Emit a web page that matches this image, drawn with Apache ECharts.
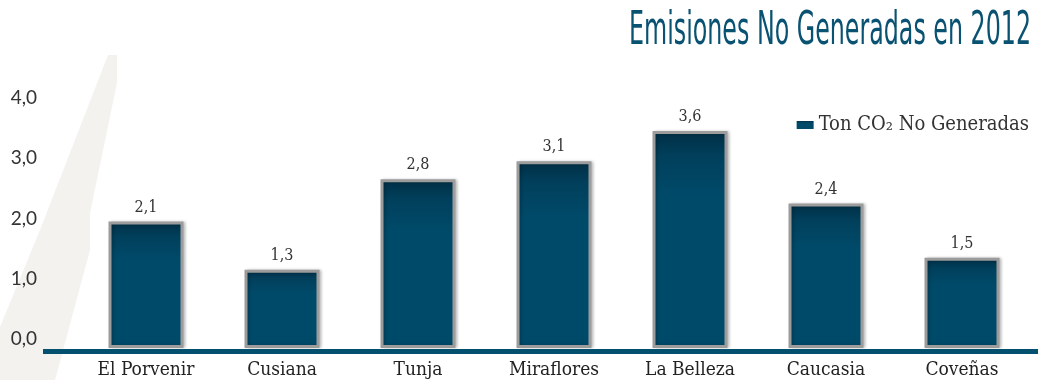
<!DOCTYPE html>
<html>
<head>
<meta charset="utf-8">
<script src="https://cdn.jsdelivr.net/npm/echarts@6/dist/echarts.min.js"></script>
<style>
html,body{margin:0;padding:0;background:#fff;}
#chart{width:1038px;height:380px;}
</style>
</head>
<body>
<div id="chart"></div>
<script>
const titleText = 'Emisiones No Generadas en 2012';
const seriesName = 'Ton CO₂ No Generadas';
const categories = ['El Porvenir', 'Cusiana', 'Tunja', 'Miraflores', 'La Belleza', 'Caucasia', 'Coveñas'];
const values = [2.1, 1.3, 2.8, 3.1, 3.6, 2.4, 1.5];
const yTicks = { min: 0, max: 4, interval: 1 };

const fmt = v => Number(v).toFixed(1).replace('.', ',');

const titleFont = '46px "Liberation Sans Narrow", "DejaVu Sans Condensed", sans-serif';
const cv = document.createElement('canvas').getContext('2d');
cv.font = titleFont;
const tw = cv.measureText(titleText).width || 400;
const titleScale = 402 / tw;

const serif = '"DejaVu Serif Condensed", "DejaVu Serif", serif';

const chart = echarts.init(document.getElementById('chart'), null, {renderer: 'canvas'});
chart.setOption({
  backgroundColor: '#ffffff',
  animation: false,
  grid: { left: 78, right: 8, top: 107, bottom: 31, containLabel: false },
  legend: {
    data: [seriesName],
    right: 4, top: 110,
    icon: 'rect', itemWidth: 17, itemHeight: 8, itemGap: 4,
    itemStyle: { borderWidth: 0, shadowBlur: 0, shadowOffsetX: 0 },
    textStyle: { fontFamily: serif, fontSize: 20, color: '#333' }
  },
  xAxis: {
    type: 'category',
    data: categories,
    axisLine: { show: false },
    axisTick: { show: false },
    axisLabel: {
      margin: 13,
      fontFamily: serif,
      fontSize: 19, color: '#222'
    }
  },
  yAxis: {
    type: 'value',
    min: yTicks.min, max: yTicks.max, interval: yTicks.interval,
    axisLine: { show: false },
    axisTick: { show: false },
    splitLine: { show: false },
    axisLabel: {
      margin: 41,
      fontFamily: 'Lato, "Open Sans", sans-serif',
      fontSize: 19, color: '#333',
      verticalAlign: 'bottom',
      lineHeight: 18,
      formatter: v => fmt(v)
    }
  },
  series: [{
    name: seriesName,
    type: 'bar',
    data: values,
    barWidth: 75,
    itemStyle: {
      color: new echarts.graphic.LinearGradient(0, 0, 0, 1, [
        { offset: 0, color: '#012e44' },
        { offset: 0.12, color: '#01405c' },
        { offset: 0.3, color: '#004a69' },
        { offset: 1, color: '#004a69' }
      ]),
      borderColor: '#9c9c9c',
      borderWidth: 3,
      shadowColor: 'rgba(0,0,0,0.2)',
      shadowBlur: 3,
      shadowOffsetX: 2
    },
    label: {
      show: true,
      position: 'top',
      distance: 6,
      fontFamily: serif,
      fontSize: 16, color: '#333',
      formatter: p => fmt(p.value)
    }
  }],
  graphic: [
    {
      type: 'polygon', z: -10, silent: true,
      shape: { points: [[108,55],[117,55],[117,83],[90,213],[90,250],[55,380],[0,380],[0,327],[40,230]] },
      style: { fill: '#f4f2ef' }
    },
    {
      type: 'rect', z: 100, silent: true,
      shape: { x: 43, y: 349, width: 995, height: 5 },
      style: { fill: '#04506f' }
    },
    {
      type: 'text', z: 100, silent: true,
      x: 1031, y: 32,
      scaleX: titleScale,
      style: {
        text: titleText, x: 0, y: 0,
        font: titleFont,
        fill: '#0a5272',
        align: 'right', verticalAlign: 'middle'
      }
    }
  ]
});
</script>
</body>
</html>
